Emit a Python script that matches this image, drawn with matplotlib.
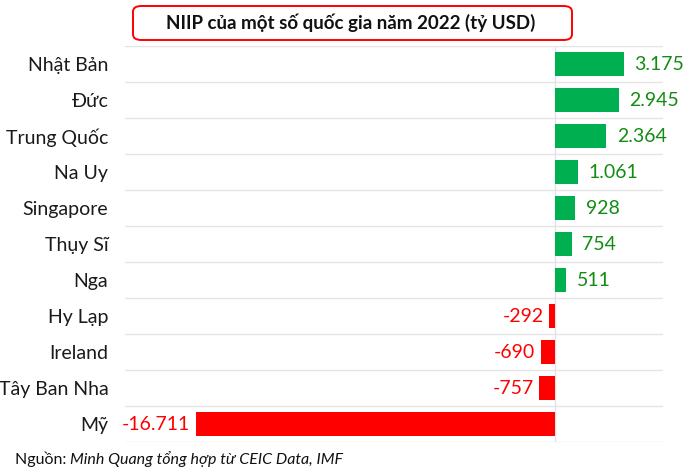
"""NIIP của một số quốc gia năm 2022 - horizontal bar chart."""

import matplotlib

matplotlib.use("Agg")
import matplotlib.pyplot as plt
from matplotlib.patches import FancyBboxPatch

plt.rcParams["font.family"] = ["Lato", "DejaVu Sans"]

countries = ["Nhật Bản", "Đức", "Trung Quốc", "Na Uy", "Singapore", "Thụy Sĩ",
             "Nga", "Hy Lạp", "Ireland", "Tây Ban Nha", "Mỹ"]
niip = [3175, 2945, 2364, 1061, 928, 754, 511, -292, -690, -757, -16711]

GREEN = "#00B050"
GREEN_TXT = "#138c13"
RED = "#FF0000"
GRID = "#e4e4e4"


def fmt(v):
    return f"{v:,}".replace(",", ".")


fig = plt.figure(figsize=(7.0, 4.72), dpi=100)
W, H = 700, 472
ax = fig.add_axes([125 / W, 1 - 442 / H, (663 - 125) / W, (442 - 46) / H])

ypos = list(range(len(countries)))
colors = [GREEN if v >= 0 else RED for v in niip]
ax.barh(ypos, niip, height=0.65, color=colors, zorder=3)

for y, v in zip(ypos, niip):
    if v >= 0:
        ax.annotate(fmt(v), (v, y), xytext=(7.5, 0), textcoords="offset points",
                    ha="left", va="center", fontsize=14, color=GREEN_TXT)
    else:
        ax.annotate(fmt(v), (v, y), xytext=(-4, 0), textcoords="offset points",
                    ha="right", va="center", fontsize=14, color=RED)

ax.set_xlim(-20000, 5000)
ax.set_ylim(len(countries) - 0.5, -0.5)
ax.set_yticks(ypos)
ax.set_yticklabels(countries, fontsize=14, color="#1a1a1a")
ax.tick_params(axis="y", length=0, pad=12)
ax.set_xticks([])

# row separators and zero line
for b in range(len(countries) + 1):
    ax.axhline(b - 0.5, color=GRID, linewidth=1, zorder=1)
ax.axvline(0, color=GRID, linewidth=1, zorder=1)
for s in ax.spines.values():
    s.set_visible(False)

# title box
box = FancyBboxPatch((133 / W, 1 - 40 / H), (572 - 133) / W, 34 / H,
                     boxstyle="round,pad=0,rounding_size=0.012",
                     transform=fig.transFigure, facecolor="white",
                     edgecolor=RED, linewidth=1.4)
fig.patches.append(box)
fig.text(351 / W, 1 - 23 / H, "NIIP của một số quốc gia năm 2022 (tỷ USD)",
         ha="center", va="center", fontsize=13.5, fontweight="bold", color="#111111")

# source note
src = fig.text(15 / W, 1 - 459 / H, "Nguồn: ", ha="left", va="center",
               fontsize=11.5, color="#111111")
fig.canvas.draw()
bb = src.get_window_extent()
fig.text(bb.x1 / W, 1 - 459 / H, "Minh Quang tổng hợp từ CEIC Data, IMF",
         ha="left", va="center", fontsize=11.5, style="italic", color="#111111")

fig.savefig("out.png", dpi=100)
